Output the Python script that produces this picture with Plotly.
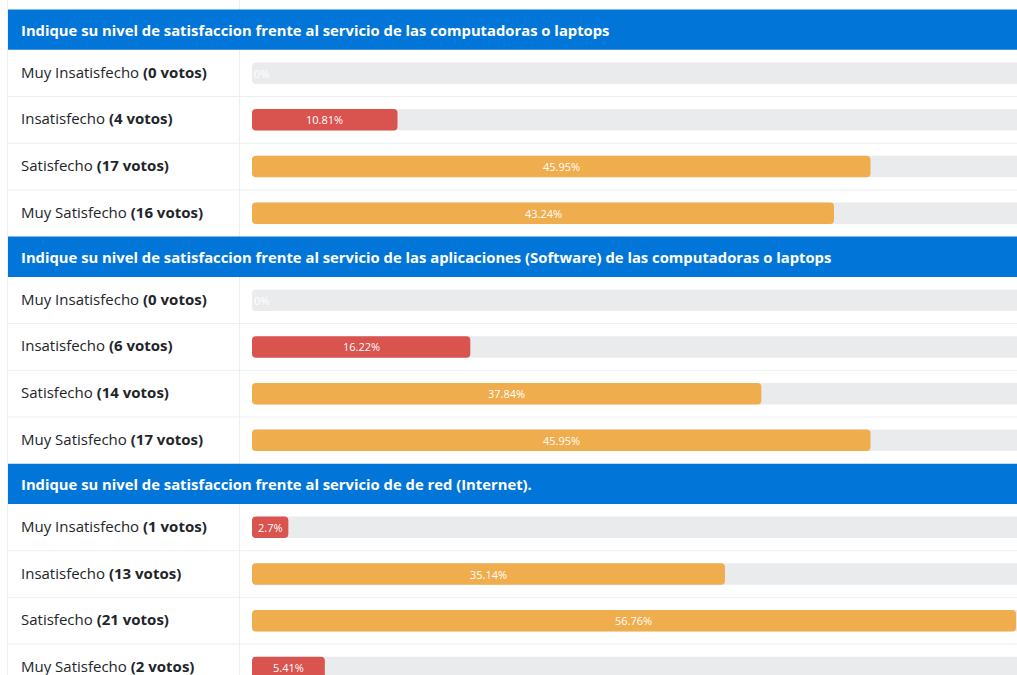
import plotly.graph_objects as go

# ---------------- data ----------------
questions = [
    "Indique su nivel de satisfaccion frente al servicio de las computadoras o laptops",
    "Indique su nivel de satisfaccion frente al servicio de las aplicaciones (Software) de las computadoras o laptops",
    "Indique su nivel de satisfaccion frente al servicio de de red (Internet).",
]
options = ["Muy Insatisfecho", "Insatisfecho", "Satisfecho", "Muy Satisfecho"]
votes_q1 = [0, 4, 17, 16]
votes_q2 = [0, 6, 14, 17]
votes_q3 = [1, 13, 21, 2]
pct_q1 = [0, 10.81, 45.95, 43.24]
pct_q2 = [0, 16.22, 37.84, 45.95]
pct_q3 = [2.7, 35.14, 56.76, 5.41]
pct_labels_q1 = ["0%", "10.81%", "45.95%", "43.24%"]
pct_labels_q2 = ["0%", "16.22%", "37.84%", "45.95%"]
pct_labels_q3 = ["2.7%", "35.14%", "56.76%", "5.41%"]

votes = [votes_q1, votes_q2, votes_q3]
pcts = [pct_q1, pct_q2, pct_q3]
pct_labels = [pct_labels_q1, pct_labels_q2, pct_labels_q3]

# ---------------- style / layout ----------------
W, H = 1017, 675
FONT = "Open Sans"
BLUE = "#0275d8"
RED = "#d9534f"
ORANGE = "#f0ad4e"
TRACK = "#eaebed"
LINE = "#eceeef"
TEXT = "#212529"
TOP = 9.5
HEADER_H = 40.3
ROW_H = 46.7
BAR_H = 21.5
TABLE_LEFT = 8
COL_SPLIT = 239.5
TRACK_LEFT_PX = 252.0
PX_PER_PCT = 13.46
LABEL_X = 19
LABEL_DY = -1.5

x_min = -TRACK_LEFT_PX / PX_PER_PCT
x_max = (W - TRACK_LEFT_PX) / PX_PER_PCT

# compute row geometry
row_y, row_val, row_lab, row_col, row_txt = [], [], [], [], []
header_y = []
row_bottoms = []
y = TOP
for qi, q in enumerate(questions):
    header_y.append((y, y + HEADER_H))
    y += HEADER_H
    for oi, opt in enumerate(options):
        c = y + ROW_H / 2
        row_y.append(c)
        v = pcts[qi][oi]
        row_val.append(v)
        row_lab.append(f"{opt} <b>({votes[qi][oi]} votos)</b>")
        row_col.append(RED if v < 20 else ORANGE)
        row_txt.append(pct_labels[qi][oi])
        y += ROW_H
        if oi < len(options) - 1:
            row_bottoms.append(y)

fig = go.Figure()

# track (drawn from 100% back to 0 so the rounded end sits at the left)
fig.add_trace(go.Bar(
    y=row_y, x=[-100] * len(row_y), base=[100] * len(row_y),
    orientation="h", width=BAR_H, marker=dict(color=TRACK, line=dict(width=0), cornerradius=4),
    hoverinfo="skip", showlegend=False,
))
# value bars
fig.add_trace(go.Bar(
    y=row_y, x=[-v for v in row_val], base=row_val,
    orientation="h", width=BAR_H, marker=dict(color=row_col, line=dict(width=0), cornerradius=4),
    hoverinfo="skip", showlegend=False,
))

shapes = []
# vertical borders
for xp in (TABLE_LEFT - 0.5, COL_SPLIT):
    shapes.append(dict(type="line", xref="paper", yref="y", x0=xp / W, x1=xp / W,
                       y0=0, y1=H, line=dict(color=LINE, width=1), layer="below"))
# horizontal separators
for yb in row_bottoms:
    shapes.append(dict(type="line", xref="paper", yref="y", x0=TABLE_LEFT / W, x1=1,
                       y0=yb, y1=yb, line=dict(color=LINE, width=1), layer="below"))
# headers
for (y0, y1) in header_y:
    shapes.append(dict(type="rect", xref="paper", yref="y", x0=TABLE_LEFT / W, x1=1,
                       y0=y0, y1=y1, fillcolor=BLUE, line=dict(width=0), layer="above"))

annotations = []
for (y0, y1), q in zip(header_y, questions):
    annotations.append(dict(xref="paper", yref="y", x=LABEL_X / W, y=(y0 + y1) / 2,
                            xanchor="left", yanchor="middle", showarrow=False,
                            text=f"<b>{q}</b>", font=dict(family=FONT, size=14.8, color="white")))
for c, lab in zip(row_y, row_lab):
    annotations.append(dict(xref="paper", yref="y", x=LABEL_X / W, y=c + LABEL_DY,
                            xanchor="left", yanchor="middle", showarrow=False,
                            text=lab, font=dict(family=FONT, size=15, color=TEXT)))
for c, v, t in zip(row_y, row_val, row_txt):
    annotations.append(dict(xref="x", yref="y", x=v / 2 if v > 0 else 0, y=c,
                            xanchor="center" if v > 0 else "left", yanchor="middle",
                            showarrow=False, text=t,
                            font=dict(family=FONT, size=11, color="white")))

fig.update_layout(
    width=W, height=H,
    margin=dict(l=0, r=0, t=0, b=0),
    paper_bgcolor="white", plot_bgcolor="white",
    barmode="overlay",
    xaxis=dict(range=[x_min, x_max], visible=False, fixedrange=True),
    yaxis=dict(range=[H, 0], visible=False, fixedrange=True),
    shapes=shapes, annotations=annotations,
    showlegend=False,
)

fig.write_html("out.html", config={"displayModeBar": False},
               post_script="document.body.style.margin='0';document.body.style.overflow='hidden';")
